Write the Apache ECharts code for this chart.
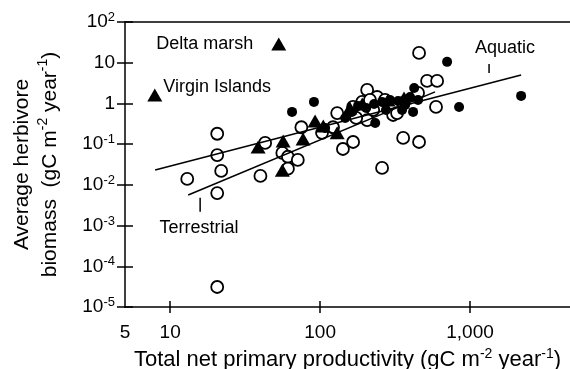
<!DOCTYPE html>
<html>
<head>
<meta charset="utf-8">
<title>Herbivore biomass vs primary productivity</title>
<script src="https://cdn.jsdelivr.net/npm/echarts@6.0.0/dist/echarts.min.js"></script>
<style>
  html, body { margin: 0; padding: 0; background: #fff; }
  #chart { width: 570px; height: 369px; }
</style>
</head>
<body>
<div id="chart"></div>
<script>
// axis ranges and ticks
const xMin = 5;
const xMax = 4640;
const yMin = 1e-5;
const yMax = 100;
const xTicks = [10, 100, 1000];
const xTickLabels = [5, 10, 100, 1000];
const yTicks = [1e-5, 1e-4, 1e-3, 1e-2, 1e-1, 1, 10, 100];

// [NPP, herbivore biomass]
const openCircles = [
  [13, 0.014], [20.6, 0.18], [20.6, 0.054], [21.9, 0.022], [20.6, 0.0063], [20.6, 3.1e-5],
  [40, 0.0166], [43, 0.107], [56, 0.061], [61, 0.049], [71, 0.041], [61, 0.025],
  [75, 0.26], [103, 0.19], [130, 0.58], [122, 0.26], [166, 0.113], [142, 0.076],
  [206, 2.15], [240, 1.44], [191, 1.09], [307, 0.52], [206, 0.39], [259, 0.026],
  [358, 0.142], [457, 0.113], [457, 17.4], [517, 3.57], [603, 3.57], [593, 0.82],
  [215, 1.22], [226, 0.69], [166, 0.82], [271, 1.22], [358, 1.03], [450, 1.81],
  [174, 0.44], [326, 0.58]
];
const filledCircles = [
  [65, 0.62], [91, 1.09], [424, 2.4], [703, 10.5], [845, 0.82], [2190, 1.53],
  [417, 0.62], [233, 0.33], [108, 0.25], [147, 0.44], [163, 0.62], [179, 0.87],
  [203, 0.77], [229, 0.97], [259, 1.09], [293, 1.22], [331, 1.15], [369, 0.92],
  [398, 1.44], [450, 1.22], [352, 0.69], [275, 0.69]
];
const triangles = [
  [53, 29], [7.9, 1.62], [38.6, 0.085], [56.7, 0.12], [77, 0.134], [56, 0.023],
  [92.6, 0.37], [105, 0.28], [130, 0.19], [158, 0.77], [191, 0.97], [284, 1.22],
  [363, 1.36]
];
const triangleNotes = ['Delta marsh', 'Virgin Islands'];

// fitted regression lines
const aquaticLine = [[7.94, 0.0232], [2190, 5.0]];
const terrestrialLine = [[13.2, 0.00565], [584, 1.92]];

// line labels and their leader ticks
const aquaticTick = [[1339, 9.3], [1339, 5.6]];
const terrestrialTick = [[15.85, 0.0048], [15.85, 0.0022]];
const lineNotes = ['Aquatic', 'Terrestrial'];
const lineNoteAt = [[1711, 23], [15.6, 0.00087]];

const FONT = '"Liberation Sans", Arial, Helvetica, sans-serif';
const INK = '#000';
const tickSup = { s: { fontSize: 13, lineHeight: 17, verticalAlign: 'top', fontFamily: FONT, color: INK } };
const nameSup = { s: { fontSize: 14, lineHeight: 19, verticalAlign: 'top', fontFamily: FONT, color: INK } };

const yLabel = (v) => {
  const e = Math.round(Math.log10(v));
  if (e === 0) return '1';
  if (e === 1) return '10';
  return '10{s|' + e + '}';
};
const xLabel = (v) => {
  const n = Math.round(v);
  return n >= 1000 ? n.toLocaleString('en-US') : String(n);
};

const axisLine = { onZero: false, lineStyle: { color: INK, width: 1.5 } };
const tickLine = { color: INK, width: 1.5 };
const xBase = { type: 'log', logBase: 10, min: xMin, max: xMax, splitLine: { show: false } };
const yBase = { type: 'log', logBase: 10, min: yMin, max: yMax, splitLine: { show: false } };

const chart = echarts.init(document.getElementById('chart'), null, { renderer: 'canvas' });

chart.setOption({
  animation: false,
  backgroundColor: '#fff',
  grid: { left: 125, right: 0, top: 22, bottom: 62, containLabel: false, outerBoundsMode: 'none' },
  xAxis: [
    {
      ...xBase,
      position: 'bottom',
      axisLine: axisLine,
      axisTick: { customValues: xTicks, length: 6, lineStyle: tickLine },
      axisLabel: { customValues: xTickLabels, formatter: xLabel, margin: 16, fontSize: 19, color: INK, fontFamily: FONT },
      name: 'Total net primary productivity (gC m{s|-2} year{s|-1})',
      nameLocation: 'middle',
      nameGap: 37,
      nameTextStyle: { fontSize: 22, lineHeight: 26, color: INK, fontFamily: FONT, rich: nameSup }
    },
    {
      ...xBase,
      position: 'bottom',
      axisLine: { show: false, onZero: false },
      axisTick: { customValues: xTicks, inside: true, length: 6, lineStyle: tickLine },
      axisLabel: { show: false }
    },
    {
      ...xBase,
      position: 'top',
      axisLine: axisLine,
      axisTick: { show: false },
      axisLabel: { show: false }
    }
  ],
  yAxis: [
    {
      ...yBase,
      position: 'left',
      axisLine: axisLine,
      axisTick: { customValues: yTicks, length: 8, lineStyle: tickLine },
      axisLabel: {
        customValues: yTicks, formatter: yLabel, margin: 10, fontSize: 19, lineHeight: 22,
        color: INK, fontFamily: FONT, rich: tickSup
      },
      name: 'Average herbivore\nbiomass  (gC m{s|-2} year{s|-1})',
      nameLocation: 'middle',
      nameRotate: 90,
      nameGap: 61,
      nameTextStyle: { fontSize: 21, lineHeight: 28, color: INK, fontFamily: FONT, rich: nameSup }
    },
    {
      ...yBase,
      position: 'left',
      axisLine: { show: false, onZero: false },
      axisTick: { customValues: yTicks, inside: true, length: 8, lineStyle: tickLine },
      axisLabel: { show: false }
    }
  ],
  series: [
    {
      type: 'scatter',
      data: openCircles,
      symbol: 'circle',
      symbolSize: 12,
      itemStyle: { color: '#fff', borderColor: INK, borderWidth: 1.8, opacity: 1 },
      z: 2
    },
    {
      type: 'scatter',
      data: filledCircles,
      symbol: 'circle',
      symbolSize: 10,
      itemStyle: { color: INK, opacity: 1 },
      z: 3
    },
    {
      type: 'scatter',
      data: triangles.map((p, i) => {
        if (i === 0) {
          return { value: p, label: { show: true, position: 'left', distance: 18, formatter: triangleNotes[0] } };
        }
        if (i === 1) {
          return { value: p, label: { show: true, position: 'right', distance: 1, offset: [0, -8], formatter: triangleNotes[1] } };
        }
        return p;
      }),
      symbol: 'triangle',
      symbolSize: [15, 13],
      itemStyle: { color: INK, opacity: 1 },
      label: { fontSize: 18, color: INK, fontFamily: FONT },
      z: 4
    },
    {
      type: 'line',
      data: aquaticLine,
      symbol: 'none',
      lineStyle: { color: INK, width: 1.5 },
      z: 5
    },
    {
      type: 'line',
      data: terrestrialLine,
      symbol: 'none',
      lineStyle: { color: INK, width: 1.5 },
      z: 5
    },
    {
      type: 'line',
      data: aquaticTick,
      symbol: 'none',
      lineStyle: { color: INK, width: 1.5 },
      z: 5
    },
    {
      type: 'line',
      data: terrestrialTick,
      symbol: 'none',
      lineStyle: { color: INK, width: 1.5 },
      z: 5
    },
    {
      type: 'scatter',
      data: lineNoteAt.map((p, i) => ({ value: p, label: { formatter: lineNotes[i] } })),
      symbolSize: 0,
      itemStyle: { opacity: 1 },
      label: { show: true, position: 'inside', fontSize: 18, color: INK, opacity: 1, fontFamily: FONT },
      z: 6
    }
  ]
});
</script>
</body>
</html>
